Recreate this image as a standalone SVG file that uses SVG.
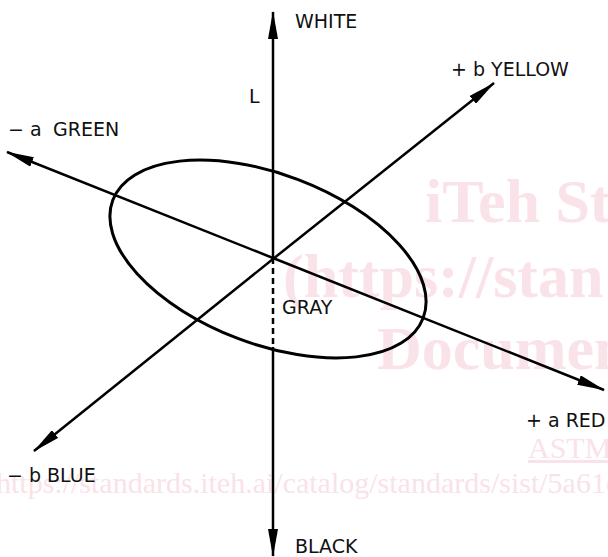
<svg xmlns="http://www.w3.org/2000/svg" width="608" height="557" viewBox="0 0 608 557">
<style>
.wm{fill:#fae2e9;font-family:"Liberation Serif","Times New Roman",serif}
.wmb{font-weight:bold;font-size:62px}
.wms{font-size:30px}
.lbl{font-family:"DejaVu Sans",Verdana,sans-serif;font-size:19px;fill:#111}
.ax{stroke:#000;stroke-width:2.5;fill:none}
</style>
<defs>
<marker id="arr" markerUnits="userSpaceOnUse" viewBox="0 0 28 10" refX="27" refY="5" markerWidth="28" markerHeight="10" orient="auto">
<path d="M0,0 L28,5 L0,10 z" fill="#000"/>
</marker>
</defs>
<rect width="608" height="557" fill="#fff"/>
<g id="watermark">
<text class="wm wmb" x="425" y="222">iTeh St</text>
<text class="wm wmb" x="283" y="297">(https://stan</text>
<text class="wm wmb" x="377" y="369">Documen</text>
<text class="wm wms" x="528" y="458" text-decoration="underline">ASTM</text>
<text class="wm wms" x="-4" y="493">https://standards.iteh.ai/catalog/standards/sist/5a61c</text>
</g>
<g id="connectors">
<line class="ax" x1="273" y1="258" x2="273" y2="12" marker-end="url(#arr)"/>
<line class="ax" x1="273" y1="258" x2="273" y2="347" stroke-dasharray="6 4"/>
<line class="ax" x1="273" y1="347" x2="273" y2="556" marker-end="url(#arr)"/>
<line class="ax" x1="273" y1="258" x2="7" y2="152" marker-end="url(#arr)"/>
<line class="ax" x1="273" y1="258" x2="604" y2="390" marker-end="url(#arr)"/>
<line class="ax" x1="273" y1="259" x2="494" y2="83" marker-end="url(#arr)"/>
<line class="ax" x1="273" y1="259" x2="34" y2="451" marker-end="url(#arr)"/>
</g>
<g id="ellipse">
<ellipse cx="268" cy="259" rx="166" ry="85" transform="rotate(20.8 268 259)" fill="none" stroke="#000" stroke-width="3"/>
</g>
<g id="labels">
<text id="white" class="lbl" x="295" y="28">WHITE</text>
<text id="yellow" class="lbl" x="451" y="76">+ b YELLOW</text>
<text id="L" class="lbl" x="249" y="103">L</text>
<text id="green" class="lbl"><tspan x="8" y="136">− a</tspan><tspan x="53" y="136">GREEN</tspan></text>
<text id="gray" class="lbl" x="282" y="314">GRAY</text>
<text id="red" class="lbl" x="526" y="427">+ a RED</text>
<text id="blue" class="lbl" x="7" y="482">− b BLUE</text>
<text id="black" class="lbl" x="295" y="553">BLACK</text>
</g>
</svg>
